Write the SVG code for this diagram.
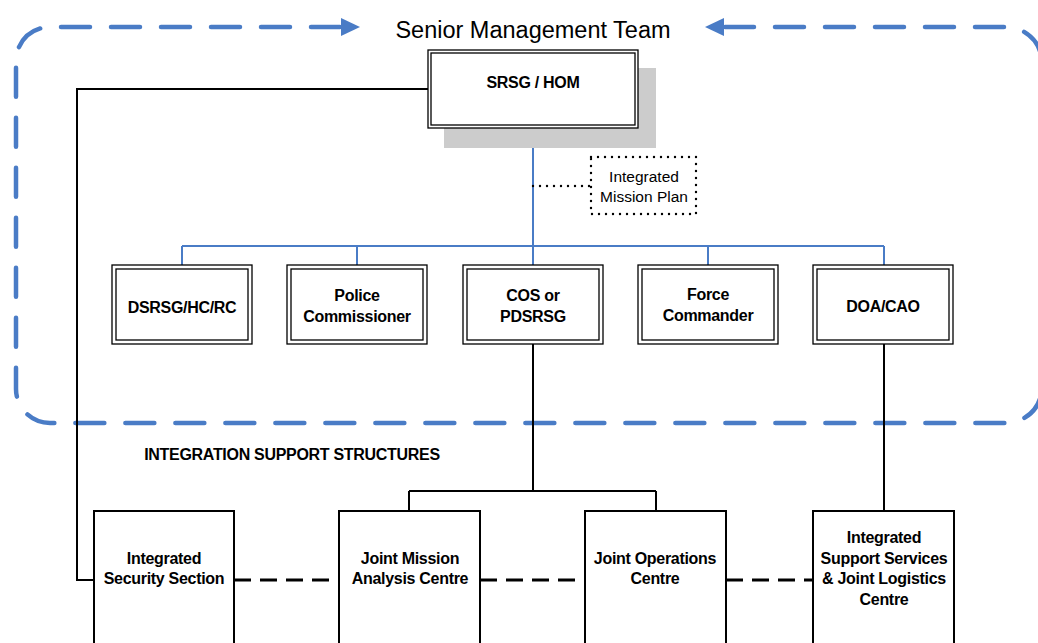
<svg xmlns="http://www.w3.org/2000/svg" width="1038" height="643" viewBox="0 0 1038 643">
<style>
.b{font-family:"Liberation Sans",Arial,sans-serif;font-weight:bold;font-size:16px;letter-spacing:-0.3px;fill:#000;text-anchor:middle}
.r{font-family:"Liberation Sans",Arial,sans-serif;font-size:15.5px;fill:#000;text-anchor:middle}
.box{fill:#fff;stroke:#000;stroke-width:1.3}
.sbox{fill:#fff;stroke:#000;stroke-width:2}
.blue{fill:none;stroke:#4a7cc6;stroke-width:2}
.blk{fill:none;stroke:#000;stroke-width:2}
.dash{fill:none;stroke:#000;stroke-width:3;stroke-dasharray:17 9}
.dot{fill:none;stroke:#000;stroke-width:2.4;stroke-linecap:round;stroke-dasharray:0 7}
.team{fill:none;stroke:#4a7cc6;stroke-width:4.5;stroke-linecap:round;stroke-dasharray:29 21}
</style>
<g id="team-boundary">
<path class="team" d="M340,27 H50 A34,34 0 0 0 16,61 V389 A34,34 0 0 0 50,423 H1006 A36,36 0 0 0 1042,387"/>
<path class="team" d="M725,27 H1006 A36,36 0 0 1 1042,63"/>
<polygon points="360,27 341,18 341,36" fill="#4a7cc6"/>
<polygon points="705,27 724,18 724,36" fill="#4a7cc6"/>
<text x="533" y="38" font-family="'Liberation Sans',Arial,sans-serif" font-size="23.5" text-anchor="middle">Senior Management Team</text>
</g>
<g id="connectors">
<path class="blue" d="M533,128 V246 M182,246 H884 M182,246 V265 M357,246 V265 M533,246 V265 M708,246 V265 M884,246 V265"/>
<path class="dot" d="M533,186 H590"/>
<path class="blk" d="M428,89 H77 V580 H94"/>
<path class="blk" d="M533,344 V491 M409,491 H656 M409,491 V511 M656,491 V511"/>
<path class="blk" d="M884,344 V511"/>
<path class="dash" d="M234,580 H339 M480,580 H585 M726,580 H813"/>
</g>
<g id="srsg">
<rect x="444" y="68" width="212" height="80" fill="#cccccc"/>
<rect class="box" x="428" y="50" width="210" height="78"/>
<rect class="box" x="431" y="53" width="204" height="72"/>
<text class="b" x="533" y="88">SRSG / HOM</text>
</g>
<g id="imp">
<rect x="591" y="157" width="105" height="57" fill="#fff" class="dot"/>
<text class="r" x="644" y="182">Integrated</text>
<text class="r" x="644" y="202">Mission Plan</text>
</g>
<g id="dsrsg">
<rect class="box" x="112" y="265" width="140" height="79"/>
<rect class="box" x="116" y="269" width="132" height="71"/>
<text class="b" x="182" y="313">DSRSG/HC/RC</text>
</g>
<g id="police">
<rect class="box" x="287" y="265" width="140" height="79"/>
<rect class="box" x="291" y="269" width="132" height="71"/>
<text class="b" x="357" y="301">Police</text>
<text class="b" x="357" y="322">Commissioner</text>
</g>
<g id="cos">
<rect class="box" x="463" y="265" width="140" height="79"/>
<rect class="box" x="467" y="269" width="132" height="71"/>
<text class="b" x="533" y="301">COS or</text>
<text class="b" x="533" y="322">PDSRSG</text>
</g>
<g id="force">
<rect class="box" x="638" y="265" width="140" height="79"/>
<rect class="box" x="642" y="269" width="132" height="71"/>
<text class="b" x="708" y="300">Force</text>
<text class="b" x="708" y="321">Commander</text>
</g>
<g id="doa">
<rect class="box" x="813" y="265" width="140" height="79"/>
<rect class="box" x="817" y="269" width="132" height="71"/>
<text class="b" x="883" y="312">DOA/CAO</text>
</g>
<text class="b" x="292" y="460">INTEGRATION SUPPORT STRUCTURES</text>
<g id="iss">
<rect class="sbox" x="94" y="511" width="140" height="150"/>
<text class="b" x="164" y="564">Integrated</text>
<text class="b" x="164" y="584">Security Section</text>
</g>
<g id="jmac">
<rect class="sbox" x="339" y="511" width="141" height="150"/>
<text class="b" x="410" y="564">Joint Mission</text>
<text class="b" x="410" y="584">Analysis Centre</text>
</g>
<g id="joc">
<rect class="sbox" x="585" y="511" width="141" height="150"/>
<text class="b" x="655" y="564">Joint Operations</text>
<text class="b" x="655" y="584">Centre</text>
</g>
<g id="isss">
<rect class="sbox" x="813" y="511" width="141" height="150"/>
<text class="b" x="884" y="543">Integrated</text>
<text class="b" x="884" y="564">Support Services</text>
<text class="b" x="884" y="584">&amp; Joint Logistics</text>
<text class="b" x="884" y="605">Centre</text>
</g>
</svg>
